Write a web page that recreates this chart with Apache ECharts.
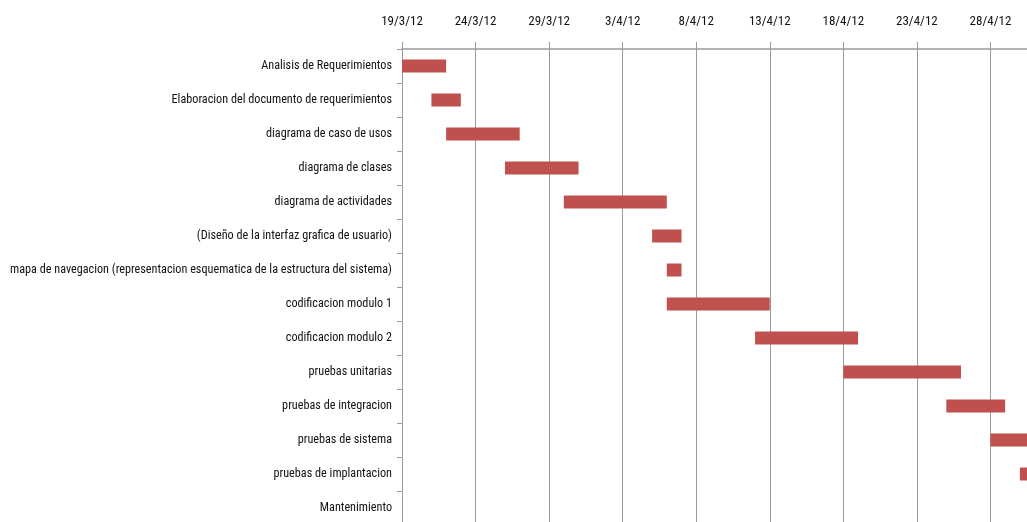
<!DOCTYPE html>
<html>
<head>
<meta charset="utf-8">
<script src="https://cdn.jsdelivr.net/npm/echarts@6/dist/echarts.min.js"></script>
<style>html,body{margin:0;padding:0;background:#fff}#c{width:1027px;height:522px}</style>
</head>
<body>
<div id="c"></div>
<script>
var tasks = [
  "Analisis de Requerimientos",
  "Elaboracion del documento de requerimientos",
  "diagrama de caso de usos",
  "diagrama de clases",
  "diagrama de actividades",
  "(Diseño de la interfaz grafica de usuario)",
  "mapa de navegacion (representacion esquematica de la estructura del sistema)",
  "codificacion modulo 1",
  "codificacion modulo 2",
  "pruebas unitarias",
  "pruebas de integracion",
  "pruebas de sistema",
  "pruebas de implantacion",
  "Mantenimiento"
];
var startDates = ["2012-03-19","2012-03-21","2012-03-22","2012-03-26","2012-03-30","2012-04-05","2012-04-06","2012-04-06","2012-04-12","2012-04-18","2012-04-25","2012-04-28","2012-04-30",null];
var durations = [3,2,5,5,7,2,1,7,7,8,4,3,2,null];
var axisStart = "2012-03-19";
var axisEndDays = 45;
var tickStepDays = 5;

var DAY = 86400000;
function toDays(s){ return Math.round((Date.parse(s+"T00:00:00Z") - Date.parse(axisStart+"T00:00:00Z"))/DAY); }
var offsets = startDates.map(function(s){ return s ? toDays(s) : null; });
var base = Date.parse(axisStart+"T00:00:00Z");
function fmt(v){ var d = new Date(base + v*DAY); return d.getUTCDate()+"/"+(d.getUTCMonth()+1)+"/"+String(d.getUTCFullYear()).slice(2); }

var font = '"Roboto Condensed","DejaVu Sans Condensed",sans-serif';
var chart = echarts.init(document.getElementById('c'), null, {renderer:'canvas'});
chart.setOption({
  animation:false,
  grid:{left:402, top:49, width:662, height:476, outerBoundsMode:'none', containLabel:false},
  xAxis:{
    type:'value', position:'top', min:0, max:axisEndDays, interval:tickStepDays,
    axisLine:{show:true, lineStyle:{color:'#9a9a9a', width:1.5}},
    axisTick:{show:true, length:7, lineStyle:{color:'#9a9a9a'}},
    splitLine:{show:true, lineStyle:{color:'#9a9a9a', width:1}},
    axisLabel:{formatter:fmt, fontFamily:font, fontWeight:'normal', fontSize:13, color:'#111', margin:21}
  },
  yAxis:{
    type:'category', data:tasks, inverse:true,
    axisLine:{show:true, lineStyle:{color:'#9a9a9a', width:1}},
    axisTick:{show:true, length:5, lineStyle:{color:'#9a9a9a'}},
    splitLine:{show:false},
    axisLabel:{fontFamily:font, fontWeight:'normal', fontSize:12.2, color:'#111', margin:10}
  },
  series:[
    {type:'bar', stack:'g', data:offsets, itemStyle:{color:'transparent'}, barWidth:13, silent:true},
    {type:'bar', stack:'g', data:durations, itemStyle:{color:'#C0504D'}, barWidth:13}
  ]
});
</script>
</body>
</html>
